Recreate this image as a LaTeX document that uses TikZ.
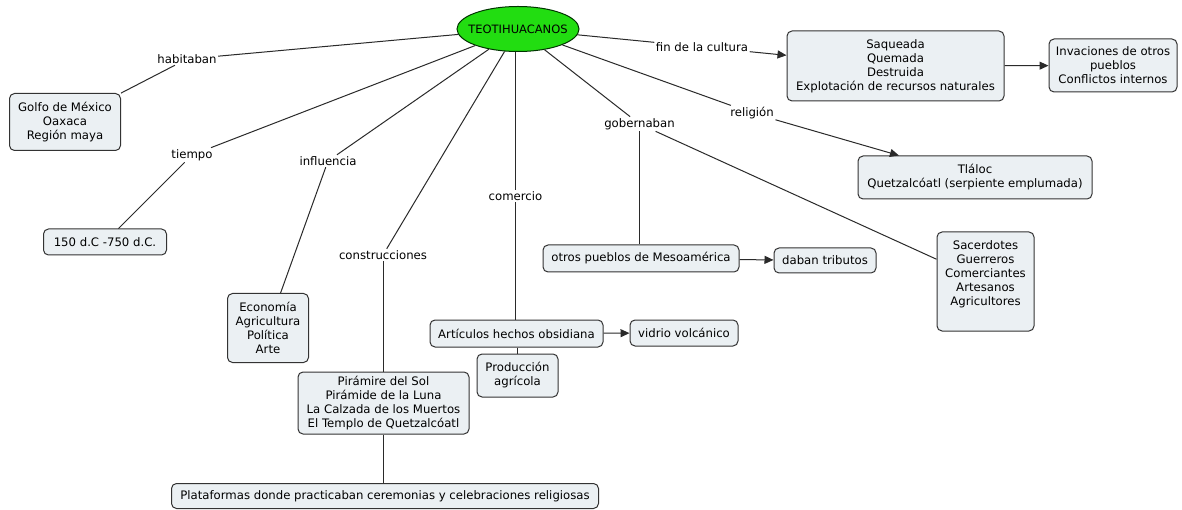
\documentclass[tikz,border=0pt]{standalone}
\usepackage{fontspec}
\setmainfont{DejaVu Sans}
\usetikzlibrary{shapes.geometric,arrows.meta}
\definecolor{boxfill}{HTML}{EBF0F3}
\definecolor{boxline}{HTML}{333333}
\definecolor{linkline}{HTML}{2A2A2A}
\definecolor{rootgreen}{HTML}{22DD11}
\tikzset{
  concept/.style={draw=boxline, line width=1pt, fill=boxfill, rounded corners=5pt,
    align=center, inner sep=0pt, font=\fontsize{11.7}{14}\selectfont},
  root/.style={ellipse, draw=black!80!green, line width=1pt, fill=rootgreen,
    inner sep=0pt, minimum width=122pt, minimum height=45pt},
  rootlabel/.style={inner sep=0pt, font=\fontsize{11.5}{12}\selectfont},
  linkword/.style={fill=white, inner sep=1.5pt, font=\fontsize{11.7}{13}\selectfont},
  link/.style={draw=linkline, line width=1pt},
  arrowlink/.style={link, -{Triangle[length=9pt,width=8pt]}},
  plain/.style={align=center, inner sep=0pt, font=\fontsize{11.7}{14}\selectfont}
}
\begin{document}
\begin{tikzpicture}[x=1pt,y=-1pt]
\useasboundingbox (0,0) rectangle (1182,510);
\fill[white] (0,0) rectangle (1182,510);

% central concept: ellipse drawn at fixed size, title set on top of it
\node[root] (teo) at (518,29) {};
\node[rootlabel] (teotext) at (teo.center) {TEOTIHUACANOS};

% concept boxes
\node[concept, minimum width=111pt, minimum height=57pt] (golfo) at (65,122)
  {Golfo de México\\Oaxaca\\Región maya};
\node[concept, minimum width=123pt, minimum height=26pt] (fecha) at (105,242)
  {150 d.C -750 d.C.};
\node[concept, minimum width=81pt, minimum height=69pt] (econ) at (268,328)
  {Economía\\Agricultura\\Política\\Arte};
\node[concept, minimum width=171pt, minimum height=62pt] (pir) at (383.5,403)
  {Pirámire del Sol\\Pirámide de la Luna\\La Calzada de los Muertos\\El Templo de Quetzalcóatl};
\node[concept, minimum width=427pt, minimum height=25pt] (plat) at (385,496)
  {Plataformas donde practicaban ceremonias y celebraciones religiosas};
\node[concept, minimum width=173pt, minimum height=27pt] (art) at (516.5,333.5)
  {Artículos hechos obsidiana};
\node[concept, minimum width=81pt, minimum height=43pt] (prod) at (517.5,375.5)
  {Producción\\agrícola};
\node[concept, minimum width=108pt, minimum height=26pt] (vidrio) at (684,333)
  {vidrio volcánico};
\node[concept, minimum width=196pt, minimum height=27pt] (otros) at (641,258.5)
  {otros pueblos de Mesoamérica};
\node[concept, minimum width=102pt, minimum height=25pt] (tributo) at (825,260.5)
  {daban tributos};
\node[concept, minimum width=97pt, minimum height=99pt] (sac) at (985.5,281.5) {};
\node[plain] (sactext) at (985.5,274)
  {Sacerdotes\\Guerreros\\Comerciantes\\Artesanos\\Agricultores};
\node[concept, minimum width=234pt, minimum height=43pt] (tlaloc) at (975,177.5)
  {Tláloc\\Quetzalcóatl (serpiente emplumada)};
\node[concept, minimum width=217pt, minimum height=70pt] (saq) at (895.5,66)
  {Saqueada\\Quemada\\Destruida\\Explotación de recursos naturales};
\node[concept, minimum width=128pt, minimum height=53pt] (inv) at (1113,65.5)
  {Invaciones de otros\\pueblos\\Conflictos internos};

% linking phrases
\node[linkword] (hab) at (187,59) {habitaban};
\node[linkword] (tiem) at (192,155) {tiempo};
\node[linkword] (infl) at (328,161) {influencia};
\node[linkword] (cons) at (383,255) {construcciones};
\node[linkword] (com) at (515.5,196) {comercio};
\node[linkword] (gob) at (639.5,124) {gobernaban};
\node[linkword] (rel) at (752,113) {religión};
\node[linkword] (fin) at (702,47) {fin de la cultura};

% connectors
\draw[link] (teo) -- (hab);
\draw[link] (hab) -- (golfo);
\draw[link] (teo) -- (tiem);
\draw[link] (tiem) -- (fecha);
\draw[link] (teo) -- (infl);
\draw[link] (infl) -- (econ);
\draw[link] (teo) -- (cons);
\draw[link] (cons) -- (cons |- pir.north);
\draw[link] (pir.south -| cons) -- (cons |- plat.north);
\draw[link] (teo.south -| com) -- (com);
\draw[link] (com) -- (com |- art.north);
\draw[link] (art.south -| prod) -- (prod.north);
\draw[arrowlink] (art) -- (vidrio);
\draw[link] (teo) -- (gob);
\draw[link] (gob) -- (gob |- otros.north);
\draw[link] (gob) -- (sac);
\draw[arrowlink] (otros) -- (tributo);
\draw[link] (teo) -- (rel);
\draw[arrowlink] (rel) -- (tlaloc);
\draw[link] (teo) -- (fin);
\draw[arrowlink] (fin) -- (saq);
\draw[arrowlink] (saq) -- (inv);
\end{tikzpicture}
\end{document}
